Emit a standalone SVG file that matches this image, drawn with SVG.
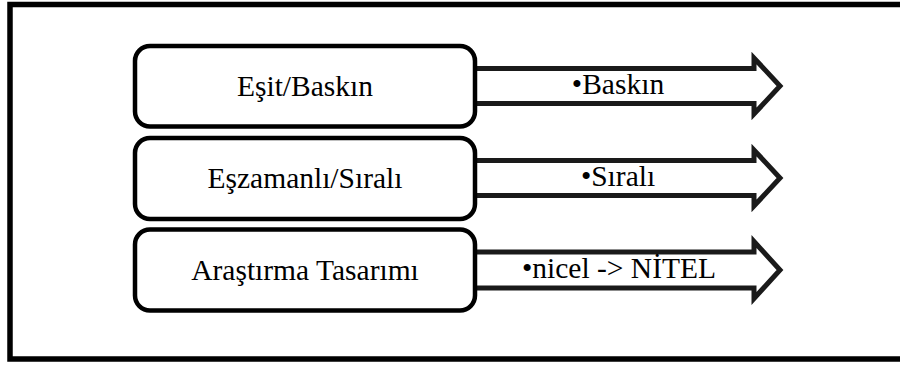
<svg xmlns="http://www.w3.org/2000/svg" width="900" height="365" viewBox="0 0 900 365">
<style>
.frame{fill:#fff;stroke:#000;stroke-width:5.5}
.box{fill:#fff;stroke:#000;stroke-width:4.5}
.arrow{fill:#fff;stroke:#1a1a1a;stroke-width:5;stroke-linejoin:miter}
.t{font-family:"Liberation Serif","Times New Roman",serif;font-size:29.5px;fill:#000;text-anchor:middle}
</style>
<rect width="900" height="365" fill="#fff"/>
<rect class="frame" x="10" y="4.5" width="900" height="354.5"/>
<g id="connectors">
<polygon class="arrow" points="470,68.5 754,68.5 754,58 780,86 754,114 754,103.5 470,103.5"/>
<polygon class="arrow" points="470,160.5 754,160.5 754,150 780,178 754,206 754,195.5 470,195.5"/>
<polygon class="arrow" points="470,252 754,252 754,241.5 780,270 754,298.5 754,288 470,288"/>
</g>
<g id="node1"><rect class="box" x="135" y="46" width="340" height="80.5" rx="15"/><text class="t" x="305" y="95.5">Eşit/Baskın</text></g>
<g id="node2"><rect class="box" x="135" y="138" width="340" height="81" rx="15"/><text class="t" x="305" y="187.5">Eşzamanlı/Sıralı</text></g>
<g id="node3"><rect class="box" x="135" y="229.5" width="340" height="81" rx="15"/><text class="t" x="305" y="279.5">Araştırma Tasarımı</text></g>
<g id="label1"><text class="t" x="618" y="93.5">•Baskın</text></g>
<g id="label2"><text class="t" x="618" y="185.5">•Sıralı</text></g>
<g id="label3"><text class="t" x="619" y="278">•nicel -&gt; NİTEL</text></g>
</svg>
